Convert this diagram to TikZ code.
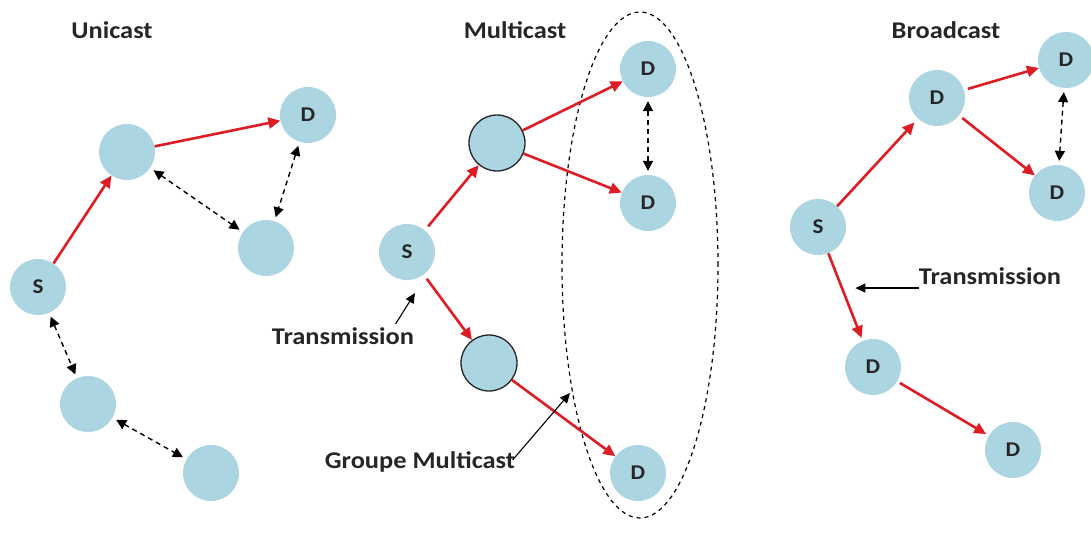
\documentclass[tikz,border=0pt]{standalone}
\usepackage{fontspec}
\setmainfont{Carlito}[FakeStretch=1.1]
\usetikzlibrary{arrows.meta,shapes.geometric}
\definecolor{nodefill}{RGB}{172,213,226}
\definecolor{sendred}{RGB}{222,28,36}
\definecolor{textgray}{RGB}{38,38,38}
\tikzset{
  host/.style={circle, fill=nodefill, minimum size=56pt, inner sep=0pt,
    font=\bfseries\fontsize{21}{24}\selectfont, text=textgray},
  router/.style={host, draw=textgray, line width=1.3pt},
  title/.style={font=\bfseries\fontsize{24}{28}\selectfont, text=textgray},
  caption/.style={font=\bfseries\fontsize{24}{28}\selectfont, text=textgray},
  send/.style={draw=sendred, line width=2.6pt, -{Triangle[length=12pt,width=11pt]}},
  link/.style={draw=black, line width=1.4pt, dash pattern=on 5pt off 4pt,
    {Triangle[length=10pt,width=10pt]}-{Triangle[length=10pt,width=10pt]}, shorten <=4pt, shorten >=4pt},
  pointer/.style={draw=black, line width=1.1pt, -{Triangle[length=10pt,width=9pt]}},
  group/.style={draw=black, line width=1.2pt, dash pattern=on 4pt off 4pt,
    ellipse, inner sep=0pt},
}
\begin{document}
\begin{tikzpicture}[x=1pt,y=-1pt]
\useasboundingbox (0,0) rectangle (1091,554);

% ---------------- Unicast ----------------
\node[title] (tu) at (112,30) {Unicast};
\node[host] (us) at (38,287) {S};
\node[host] (ua) at (127,152) {};
\node[host] (ud) at (308,115) {D};
\node[host] (ub) at (266,248) {};
\node[host] (uc) at (88,404) {};
\node[host] (ue) at (211,473) {};
\draw[send] (us) -- (ua);
\draw[send] (ua) -- (ud);
\draw[link] (ua) -- (ub);
\draw[link] (ud) -- (ub);
\draw[link] (us) -- (uc);
\draw[link] (uc) -- (ue);

% ---------------- Multicast ----------------
\node[title] (tm) at (515,30) {Multicast};
\node[group, minimum width=156pt, minimum height=506pt] (grp) at (640,265) {};
\node[host] (ms) at (407,252) {S};
\node[router] (mu) at (497,143) {};
\node[router] (ml) at (489,363) {};
\node[host] (md1) at (648,69) {D};
\node[host] (md2) at (648,203) {D};
\node[host] (md3) at (638,473) {D};
\draw[send, shorten <=5pt] (ms) -- (mu);
\draw[send] (mu) -- (md1);
\draw[send] (mu) -- (md2);
\draw[send, shorten <=5pt] (ms) -- (ml);
\draw[send] (ml) -- (md3);
\draw[link] (md1) -- (md2);
\node[caption] (mt) at (343,336) {Transmission};
\coordinate (mtip) at (415,293);
\draw[pointer] (mt.north east) ++(-22,0) -- (mtip);
\node[caption] (mg) at (420,462) {Groupe Multicast};
\coordinate (mgtip) at (570,393);
\draw[pointer] (mg.east) ++(-6,-2) -- (mgtip);

% ---------------- Broadcast ----------------
\node[title] (tb) at (946,30) {Broadcast};
\node[host] (bs) at (818,227) {S};
\node[host] (bm) at (937,98) {D};
\node[host] (bt) at (1066,60) {D};
\node[host] (br) at (1057,193) {D};
\node[host] (bl) at (873,367) {D};
\node[host] (bb) at (1013,450) {D};
\draw[send, shorten >=5pt] (bs) -- (bm);
\draw[send, shorten <=4pt] (bm) -- (bt);
\draw[send, shorten <=4pt] (bm) -- (br);
\draw[send, shorten >=3pt] (bs) -- (bl);
\draw[send, shorten <=3pt, shorten >=3pt] (bl) -- (bb);
\draw[link] (bt) -- (br);
\node[caption] (bx) at (990,276) {Transmission};
\draw[pointer] (bx.south west) ++(4,0) coordinate (btail) -- ++(-64,0) coordinate (btip);
\end{tikzpicture}
\end{document}
